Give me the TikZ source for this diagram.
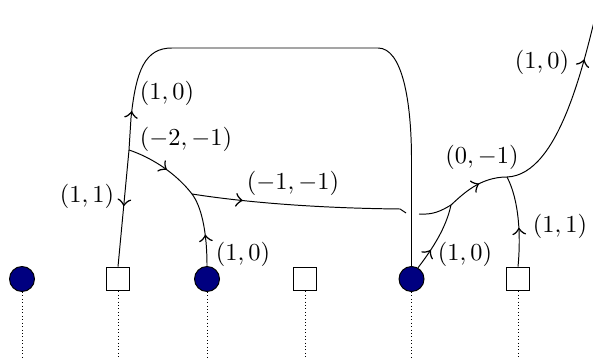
\documentclass[tikz,border=0pt]{standalone}
\usetikzlibrary{decorations.markings}
\definecolor{navyblue}{RGB}{0,0,128}
\begin{document}
\begin{tikzpicture}[x=0.41pt,y=-0.41pt,
  bead/.style={circle,draw=black,fill=navyblue,minimum size=10.25pt,inner sep=0pt},
  box/.style={rectangle,draw=black,fill=white,minimum size=9.7pt,inner sep=0pt},
  guide/.style={densely dotted},
  fwd/.style={postaction={decorate},decoration={markings,mark=at position #1 with {\arrow[scale=1.6]{>}}}},
  bwd/.style={postaction={decorate},decoration={markings,mark=at position #1 with {\arrow[scale=1.6]{<}}}},
  lab/.style={inner sep=0pt}]
\useasboundingbox (0,0) rectangle (593,358);
\clip (0,0) rectangle (593,358);
% nodes
\node[bead] (c1) at (22,279) {};
\node[box]  (s1) at (118,279) {};
\node[bead] (c2) at (207,279) {};
\node[box]  (s2) at (305,279) {};
\node[bead] (c3) at (411.5,279) {};
\node[box]  (s3) at (518,279) {};
% guide ends
\coordinate (b1) at (22,362);
\coordinate (b2) at (118,362);
\coordinate (b3) at (207,362);
\coordinate (b4) at (305,362);
\coordinate (b5) at (411.5,362);
\coordinate (b6) at (518,362);
\draw[guide] (c1.south) -- (b1);
\draw[guide] (s1.south) -- (b2);
\draw[guide] (c2.south) -- (b3);
\draw[guide] (s2.south) -- (b4);
\draw[guide] (c3.south) -- (b5);
\draw[guide] (s3.south) -- (b6);
% junctions
\coordinate (J1) at (129,150);
\coordinate (J2) at (192,194);
\coordinate (J3) at (507,177);
\coordinate (J4) at (451,205);
\coordinate (X1) at (400,209);
\coordinate (X2) at (406,213);
\coordinate (X3) at (419,214);
\coordinate (T)  at (601,-8);
% edges
\draw[bwd=0.58] (s1.north) -- (J1);
\draw[fwd=16pt] (J1) -- (131,118) .. controls (136,70) and (145,48) .. (172,48)
   -- (378,48) .. controls (402,48) and (411.5,100) .. (411.5,160) -- (c3.north);
\draw[fwd=0.55] (J1) .. controls (150,157) and (175,172) .. (J2);
\draw[bwd=-10pt] (J2) .. controls (201,206) and (207,230) .. (c2.north);
\draw[fwd=21pt] (J2) .. controls (230,200) and (300,208) .. (X1) -- (X2);
\draw (X3) .. controls (433,215) and (441,211) .. (J4);
\draw[fwd=0.55] (J4) .. controls (463,194) and (480,177) .. (J3);
\draw[fwd=-28.5pt] (J3) .. controls (560,175) and (585,60) .. (T);
\draw[fwd=16pt] (s3.north) .. controls (521,235) and (519,200) .. (J3);
\draw[fwd=9pt] (c3.60) .. controls (433,248) and (446,228) .. (J4);
% labels
\node[lab] (l1) at (167,93) {$(1,0)$};
\node[lab] (l2) at (186,139) {$(-2,-1)$};
\node[lab] (l3) at (87,196) {$(1,1)$};
\node[lab] (l4) at (293,183) {$(-1,-1)$};
\node[lab] (l5) at (243,254) {$(1,0)$};
\node[lab] (l6) at (482,157) {$(0,-1)$};
\node[lab] (l7) at (465,254) {$(1,0)$};
\node[lab] (l8) at (560,226) {$(1,1)$};
\node[lab] (l9) at (542,62) {$(1,0)$};
\end{tikzpicture}
\end{document}
